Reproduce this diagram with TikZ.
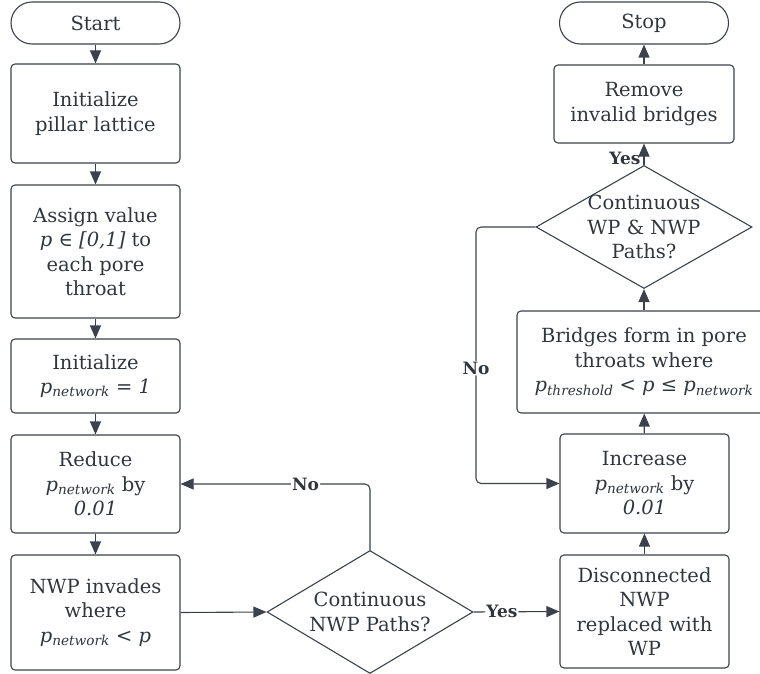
\documentclass[tikz,border=0pt]{standalone}
\usepackage{fontspec}
\setmainfont{DejaVu Serif}
\usetikzlibrary{arrows.meta,shapes.geometric}
\definecolor{lineclr}{HTML}{3B424C}
\definecolor{txtclr}{HTML}{30363E}
\newcommand{\pnet}{\textit{p}\textsubscript{\textit{network}}}
\newcommand{\pthr}{\textit{p}\textsubscript{\textit{threshold}}}

\begin{document}
\begin{tikzpicture}[x=1pt, y=-1pt,
    every node/.style={font=\fontsize{19.5}{24.5}\selectfont, text=txtclr, align=center},
    box/.style={draw=lineclr, line width=1.1pt, rounded corners=4pt, minimum width=169pt, inner sep=0pt},
    term/.style={draw=lineclr, line width=1.1pt, rounded corners=21pt, minimum width=169pt, minimum height=42pt, inner sep=0pt},
    decision/.style={draw=lineclr, line width=1.1pt, diamond, inner sep=0pt},
    arr/.style={draw=lineclr, line width=1.1pt, -{Triangle[length=13pt,width=11pt]}, rounded corners=5pt},
    lbl/.style={fill=white, inner sep=1pt, font=\fontsize{17}{20}\selectfont\bfseries}]
  \useasboundingbox (0,0) rectangle (760,674);

  % left column
  \node[term] (start) at (95.5,23) {Start};
  \node[box, minimum height=99pt] (init) at (95.5,113.5) {Initialize\\pillar lattice};
  \node[box, minimum height=133pt] (assign) at (95.5,251.5) {Assign value\\\textit{p} ∈ \textit{[0,1]} to\\each pore\\throat};
  \node[box, minimum height=74pt] (initp) at (95.5,376) {Initialize\\\pnet\ \textit{= 1}};
  \node[box, minimum height=98pt] (reduce) at (95.5,484) {Reduce\\\pnet\ by\\\textit{0.01}};
  \node[box, minimum height=115pt] (invade) at (95.5,612.5) {NWP invades\\where\\\pnet\ \textit{< p}};

  \node[decision, minimum width=206pt, minimum height=123pt] (dec1) at (370,612) {};
  \node at (dec1) {Continuous\\NWP Paths?};

  % right column
  \node[term] (stop) at (644,23) {Stop};
  \node[box, minimum width=180pt, minimum height=78pt] (remove) at (644,104) {Remove\\invalid bridges};
  \node[decision, minimum width=216pt, minimum height=123pt] (dec2) at (644,227) {};
  \node at (dec2) {Continuous\\WP \& NWP\\Paths?};
  \node[box, minimum width=254pt, minimum height=102pt] (bridges) at (644,362) {Bridges form in pore\\throats where\\\pthr\ \textit{< p ≤} \pnet};
  \node[box, minimum height=99pt] (increase) at (644.5,483.5) {Increase\\\pnet\ by\\\textit{0.01}};
  \node[box, minimum height=113pt] (discon) at (644.5,611.5) {Disconnected\\NWP\\replaced with\\WP};
  \coordinate (back) at (476,0);

  \draw[arr] (start) -- (init);
  \draw[arr] (init) -- (assign);
  \draw[arr] (assign) -- (initp);
  \draw[arr] (initp) -- (reduce);
  \draw[arr] (reduce) -- (invade);
  \draw[arr] (invade.east) -- (dec1.west);
  \draw[arr] (dec1.north) |- node[lbl, pos=0.67] {No} (reduce.east);
  \draw[arr] (dec1.east) -- node[lbl, pos=0.33] {Yes} (discon.west);
  \draw[arr] (discon) -- (increase);
  \draw[arr] (increase) -- (bridges);
  \draw[arr] (bridges) -- (dec2);
  \draw[arr] (dec2.north) -- node[lbl, left, fill=none, pos=0.3, xshift=-2pt] {Yes} (remove.south);
  \draw[arr] (remove) -- (stop);
  \draw[arr] (dec2.west) -- (dec2.west -| back) -- node[lbl, pos=0.55] {No} (increase.west -| back) -- (increase.west);
\end{tikzpicture}
\end{document}
